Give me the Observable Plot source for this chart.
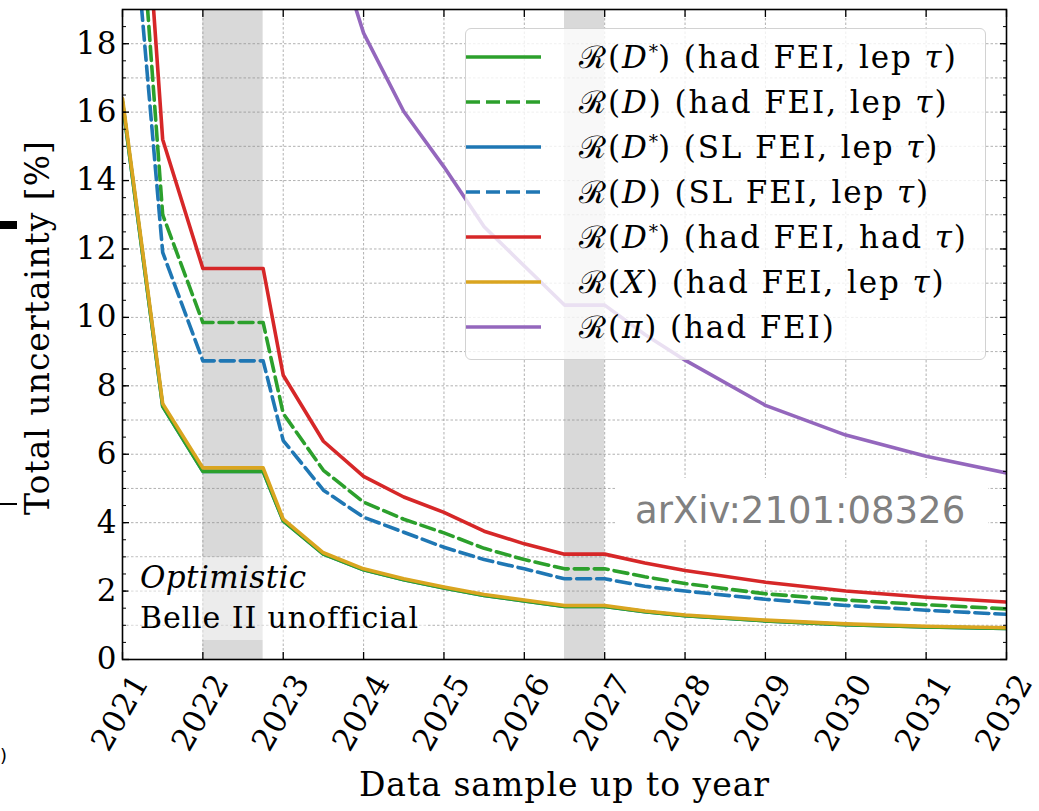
<!DOCTYPE html>
<html><head><meta charset="utf-8">
<script src="https://cdn.jsdelivr.net/npm/d3@7"></script>
<script src="https://cdn.jsdelivr.net/npm/@observablehq/plot@0.6"></script>
<style>
body{margin:0;background:#fff;}
#wrap{position:relative;width:1039px;height:811px;overflow:hidden;font-family:"DejaVu Serif",serif;}
#wrap svg{position:absolute;left:0;top:0;}
#legend{position:absolute;left:465px;top:28px;width:521px;height:332px;box-sizing:border-box;background:rgba(255,255,255,0.8);border:1px solid #d2d2d2;border-radius:6px;}
.row{position:absolute;left:0;height:44px;width:100%;}
.row svg{position:absolute;left:11px;top:0;}
.row span{position:absolute;left:113px;top:0;line-height:44px;font-size:31px;letter-spacing:1.9px;white-space:nowrap;color:#000;}
.row sup{font-size:0.6em;vertical-align:0.55em;line-height:0;letter-spacing:0;}
.art{position:absolute;background:#000;}
</style></head><body><div id="wrap"></div>
<script>
// ---- data ----
const years = [2021, 2022, 2023, 2024, 2025, 2026, 2027, 2028, 2029, 2030, 2031, 2032];
const yMajor = [0, 2, 4, 6, 8, 10, 12, 14, 16, 18];
const yMinor = [0, 0.5, 1, 1.5, 2, 2.5, 3, 3.5, 4, 4.5, 5, 5.5, 6, 6.5, 7, 7.5, 8, 8.5, 9, 9.5, 10, 10.5, 11, 11.5, 12, 12.5, 13, 13.5, 14, 14.5, 15, 15.5, 16, 16.5, 17, 17.5, 18, 18.5, 19];
const yGrid = [1, 2, 3, 4, 5, 6, 7, 8, 9, 10, 11, 12, 13, 14, 15, 16, 17, 18];
const bandStart = [2022, 2026.5];
const bandEnd = [2022.75, 2027];

const xSteps = [2021, 2021.5, 2022, 2022.75, 2023, 2023.5, 2024, 2024.5, 2025, 2025.5, 2026, 2026.5, 2027, 2027.5, 2028, 2029, 2030, 2031, 2032];
const xPi = [2023.5, 2024, 2024.5, 2025, 2025.5, 2026, 2026.5, 2027, 2027.5, 2028, 2029, 2030, 2031, 2032];

const rDstarHadLep = [16.3, 7.4, 5.5, 5.5, 4.05, 3.08, 2.62, 2.33, 2.09, 1.87, 1.71, 1.55, 1.55, 1.4, 1.28, 1.13, 1.02, 0.95, 0.91];
const rDHadLep     = [29.0, 13.0, 9.85, 9.85, 7.19, 5.53, 4.6, 4.1, 3.7, 3.25, 2.92, 2.65, 2.65, 2.42, 2.22, 1.92, 1.74, 1.6, 1.48];
const rDstarSLLep  = [16.3, 7.4, 5.5, 5.5, 4.05, 3.08, 2.62, 2.33, 2.09, 1.87, 1.71, 1.55, 1.55, 1.4, 1.28, 1.13, 1.02, 0.95, 0.91];
const rDSLLep      = [25.5, 11.9, 8.73, 8.73, 6.4, 4.95, 4.16, 3.72, 3.28, 2.92, 2.65, 2.36, 2.36, 2.14, 2.0, 1.76, 1.58, 1.44, 1.32];
const rDstarHadHad = [32.0, 15.2, 11.43, 11.43, 8.31, 6.38, 5.35, 4.75, 4.3, 3.75, 3.38, 3.08, 3.08, 2.82, 2.6, 2.26, 2.0, 1.82, 1.68];
const rXHadLep     = [16.4, 7.48, 5.6, 5.6, 4.1, 3.12, 2.65, 2.36, 2.12, 1.9, 1.74, 1.58, 1.58, 1.42, 1.3, 1.15, 1.04, 0.97, 0.93];
const rPiHad       = [22.0, 18.31, 16.02, 14.4, 12.65, 11.5, 10.36, 10.36, 9.5, 8.75, 7.43, 6.56, 5.94, 5.45];

const seriesLabels = [
  "ℛ(<i>D</i><sup>*</sup>) (had FEI, lep <i>τ</i>)",
  "ℛ(<i>D</i>) (had FEI, lep <i>τ</i>)",
  "ℛ(<i>D</i><sup>*</sup>) (SL FEI, lep <i>τ</i>)",
  "ℛ(<i>D</i>) (SL FEI, lep <i>τ</i>)",
  "ℛ(<i>D</i><sup>*</sup>) (had FEI, had <i>τ</i>)",
  "ℛ(<i>X</i>) (had FEI, lep <i>τ</i>)",
  "ℛ(<i>π</i>) (had FEI)"
];
const seriesColors = ["#2ca02c", "#2ca02c", "#1f77b4", "#1f77b4", "#d62728", "#daa520", "#9467bd"];
const seriesDashed = [false, true, false, true, false, false, false];
const seriesX = [xSteps, xSteps, xSteps, xSteps, xSteps, xSteps, xPi];
const seriesY = [rDstarHadLep, rDHadLep, rDstarSLLep, rDSLLep, rDstarHadHad, rXHadLep, rPiHad];
// draw order (matplotlib order, SL D* hidden under the others)
const drawOrder = [2, 0, 1, 3, 4, 5, 6];

const xLabel = "Data sample up to year";
const yLabel = "Total uncertainty [%]";

// ---- build ----
const bands = bandStart.map((s, i) => ({start: s, end: bandEnd[i]}));
const lineMarks = drawOrder.map(i => {
  const rows = seriesX[i].map((x, j) => ({x, y: seriesY[i][j]}));
  return Plot.line(rows, {x: "x", y: "y", stroke: seriesColors[i], strokeWidth: 3.6,
    strokeDasharray: seriesDashed[i] ? "14,6" : null, clip: true, strokeLinejoin: "round"});
});
const gridStyle = {stroke: "#8a8a8a", strokeOpacity: 0.75, strokeWidth: 0.9, strokeDasharray: "2.5,2"};
const empty = () => "";

const chart = Plot.plot({
  width: 1039, height: 811,
  marginLeft: 122, marginRight: 33, marginTop: 9, marginBottom: 152,
  x: {domain: [2021, 2032], label: null},
  y: {domain: [0, 19], label: null},
  style: {fontFamily: "DejaVu Serif", fontSize: "30px", color: "#000", background: "transparent", overflow: "visible", letterSpacing: "1px"},
  marks: [
    Plot.rect(bands, {x1: "start", x2: "end", fill: "#d9d9d9"}),
    Plot.gridY(yGrid, gridStyle),
    Plot.gridX(years.slice(1, -1), gridStyle),
    ...lineMarks,
    Plot.frame({stroke: "#000", strokeWidth: 1.6}),
    Plot.axisX(years, {anchor: "bottom", tickSize: -7, tickFormat: empty, strokeWidth: 1.3}),
    Plot.axisX(years, {anchor: "top", tickSize: -7, tickFormat: empty, strokeWidth: 1.3}),
    Plot.axisY(yMinor, {anchor: "left", tickSize: -4, tickFormat: empty, strokeWidth: 1}),
    Plot.axisY(yMinor, {anchor: "right", tickSize: -4, tickFormat: empty, strokeWidth: 1}),
    Plot.axisY(yMajor, {anchor: "left", tickSize: -7, tickFormat: empty, strokeWidth: 1.3}),
    Plot.axisY(yMajor, {anchor: "right", tickSize: -7, tickFormat: empty, strokeWidth: 1.3}),
    Plot.axisY(yMajor, {anchor: "left", tickSize: 0, tickPadding: 5, fontSize: 31, fill: "#000"}),
    Plot.text(years, {x: d => d, frameAnchor: "bottom", dy: 53, dx: -2, rotate: -60, text: d => String(d),
      textAnchor: "middle", lineAnchor: "middle", fontSize: 31, fill: "#000"}),
    Plot.text([xLabel], {frameAnchor: "bottom", dy: 126, text: d => d, textAnchor: "middle", lineAnchor: "middle", fontSize: 33, fill: "#000"}),
    Plot.text([yLabel], {frameAnchor: "left", dx: -84, dy: -7, rotate: -90, text: d => d, textAnchor: "middle", lineAnchor: "middle", fontSize: 33, fill: "#000"})
  ]
});

const wrap = document.getElementById("wrap");
wrap.appendChild(chart);

// annotation overlay
const ov = d3.select(wrap).append("svg").attr("width", 1039).attr("height", 811).style("pointer-events", "none");
ov.append("rect").attr("x", 128).attr("y", 557).attr("width", 192).attr("height", 41).attr("fill", "#fff").attr("fill-opacity", 0.5);
ov.append("rect").attr("x", 128).attr("y", 598).attr("width", 300).attr("height", 42).attr("fill", "#fff").attr("fill-opacity", 0.5);
ov.append("text").attr("x", 140).attr("y", 588).attr("font-family", "DejaVu Serif").attr("font-style", "italic").attr("font-size", 31).attr("letter-spacing", "0.4px").text("Optimistic");
ov.append("text").attr("x", 140).attr("y", 628).attr("font-family", "DejaVu Serif").attr("font-size", 30).attr("letter-spacing", "0.9px").text("Belle II unofficial");
ov.append("rect").attr("x", 615).attr("y", 478).attr("width", 373).attr("height", 60).attr("fill", "#fff");
ov.append("text").attr("x", 635).attr("y", 523).attr("font-family", "DejaVu Sans").attr("font-size", 37).attr("fill", "#808080").text("arXiv:2101:08326");
ov.append("text").attr("x", 0).attr("y", 762).attr("font-family", "DejaVu Sans").attr("font-size", 18).attr("fill", "#000").text(")");

// legend
const lg = d3.select(wrap).append("div").attr("id", "legend");
seriesLabels.forEach((lab, i) => {
  const row = lg.append("div").attr("class", "row").style("top", (6 + i * 45) + "px");
  const s = row.append("svg").attr("width", 80).attr("height", 44);
  s.append("line").attr("x1", 0).attr("x2", 75).attr("y1", 22).attr("y2", 22)
    .attr("stroke", seriesColors[i]).attr("stroke-width", 3.6)
    .attr("stroke-dasharray", seriesDashed[i] ? "14,6" : null);
  row.append("span").html(lab);
});

// cropped artefacts at the left edge
d3.select(wrap).append("div").attr("class", "art").style("left", "0px").style("top", "221px").style("width", "17px").style("height", "8px");
d3.select(wrap).append("div").attr("class", "art").style("left", "0px").style("top", "503px").style("width", "17px").style("height", "2px");
</script></body></html>
